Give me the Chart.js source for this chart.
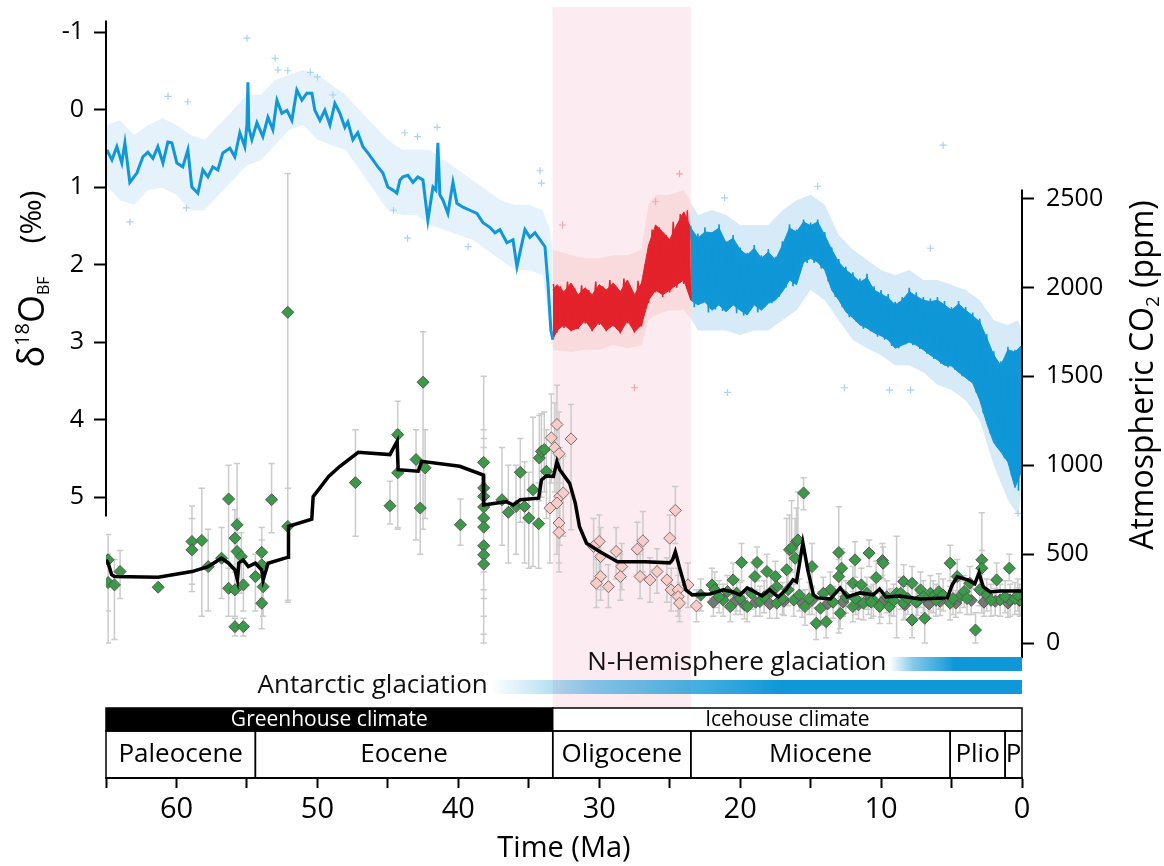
<!DOCTYPE html>
<html>
<head>
<meta charset="utf-8">
<script src="https://cdn.jsdelivr.net/npm/chart.js@4.4.1/dist/chart.umd.min.js"></script>
<style>
    html, body { margin: 0; padding: 0; background: #fff; }
    #chart { display: block; }
</style>
</head>
<body>
<canvas id="chart" width="1164" height="866"></canvas>
<script>
// benthic d18O, smoothed record 65 - 33.3 Ma (per mil)
const d18Age = [64.94, 64.58, 64.23, 63.88, 63.66, 63.31, 62.81, 62.38, 62.03, 61.67,
    61.32, 60.96, 60.61, 60.33, 59.97, 59.55, 59.19, 58.91, 58.48, 58.13,
    57.77, 57.42, 57.06, 56.71, 56.21, 55.86, 55.50, 55.15, 55.0, 54.93,
    54.86, 54.65, 54.29, 53.87, 53.51, 53.16, 52.87, 52.52, 52.16, 51.81,
    51.46, 51.1, 50.75, 50.39, 50.18, 49.82, 49.47, 49.11, 48.76, 48.4,
    48.05, 47.84, 47.48, 47.13, 46.77, 46.42, 46.06, 45.71, 45.35, 45.0,
    44.64, 44.36, 44.14, 43.93, 43.58, 43.22, 42.87, 42.51, 42.16, 41.8,
    41.59, 41.45, 41.31, 41.09, 40.74, 40.38, 40.1, 39.67, 39.18, 38.68,
    38.25, 37.76, 37.4, 37.05, 36.55, 36.12, 35.84, 35.63, 35.27, 34.92,
    34.56, 34.21, 33.85, 33.64, 33.43, 33.29];
const d18Val = [0.52, 0.65, 0.48, 0.69, 0.43, 0.94, 0.82, 0.61, 0.55, 0.63,
    0.48, 0.69, 0.42, 0.43, 0.69, 0.74, 0.52, 1.0, 1.08, 0.78,
    0.87, 0.74, 0.78, 0.56, 0.5, 0.61, 0.3, 0.48, 0.2, -0.35,
    0.24, 0.39, 0.17, 0.35, 0.1, 0.26, -0.12, 0.05, 0.01, 0.14,
    -0.25, -0.12, -0.21, -0.21, 0.01, 0.14, 0.01, 0.2, -0.08, 0.05,
    0.23, 0.16, 0.39, 0.3, 0.48, 0.56, 0.65, 0.74, 0.82, 1.0,
    1.04, 1.08, 0.91, 0.87, 0.85, 0.94, 0.87, 0.91, 1.43, 1.0,
    1.04, 0.43, 1.1, 1.17, 1.34, 0.94, 1.21, 1.26, 1.3, 1.34,
    1.46, 1.52, 1.59, 1.55, 1.72, 1.68, 2.03, 1.85, 1.55, 1.65,
    1.59, 1.68, 1.77, 2.24, 2.85, 2.97];

// 33.3 - 0 Ma: upper and lower edge of the dense record
const bandAge = [33.3, 33, 32.5, 32, 31.5, 31, 30.5, 30, 29.5, 29,
    28.5, 28, 27.5, 27, 26.5, 26, 25.5, 25, 24.5, 24,
    23.5, 23, 22.5, 22, 21.5, 21, 20.5, 20, 19.5, 19,
    18.5, 18, 17.5, 17, 16.5, 16, 15.5, 15, 14.5, 14,
    13.5, 13, 12.5, 12, 11.5, 11, 10.5, 10, 9.5, 9,
    8.5, 8, 7.5, 7, 6.5, 6, 5.5, 5, 4.5, 4,
    3.5, 3, 2.5, 2, 1.5, 1, 0.5, 0];
const bandTop = [2.33, 2.26, 2.35, 2.24, 2.39, 2.30, 2.39, 2.26, 2.33, 2.24,
    2.35, 2.20, 2.39, 2.24, 1.75, 1.49, 1.58, 1.68, 1.49, 1.32,
    1.53, 1.66, 1.58, 1.59, 1.53, 1.72, 1.66, 1.81, 1.88, 1.79,
    1.92, 1.84, 1.94, 1.75, 1.53, 1.58, 1.45, 1.50, 1.45, 1.62,
    1.81, 1.97, 2.07, 2.14, 2.23, 2.17, 2.33, 2.38, 2.43, 2.52,
    2.46, 2.35, 2.41, 2.46, 2.48, 2.46, 2.52, 2.59, 2.51, 2.59,
    2.66, 2.74, 2.95, 3.17, 3.30, 3.10, 3.13, 3.04];
const bandBottom = [2.97, 2.85, 2.78, 2.85, 2.82, 2.72, 2.85, 2.74, 2.85, 2.78,
    2.88, 2.72, 2.87, 2.78, 2.46, 2.33, 2.39, 2.33, 2.26, 2.20,
    2.46, 2.52, 2.48, 2.59, 2.52, 2.61, 2.52, 2.59, 2.65, 2.52,
    2.59, 2.50, 2.46, 2.35, 2.20, 2.26, 1.97, 1.92, 1.97, 2.07,
    2.33, 2.46, 2.61, 2.69, 2.78, 2.82, 2.88, 2.92, 2.97, 3.08,
    3.04, 3.00, 3.04, 3.10, 3.17, 3.23, 3.30, 3.31, 3.39, 3.46,
    3.53, 3.75, 4.05, 4.30, 4.42, 4.55, 4.88, 4.65];

// high-frequency swings of the dense record, 0.25 Ma apart
const swingOligoAge = [33.25, 33.0, 32.75, 32.5, 32.25, 32.0, 31.75, 31.5, 31.25, 31.0,
    30.75, 30.5, 30.25, 30.0, 29.75, 29.5, 29.25, 29.0, 28.75, 28.5,
    28.25, 28.0, 27.75, 27.5, 27.25, 27.0, 26.75, 26.5, 26.25, 26.0,
    25.75, 25.5, 25.25, 25.0, 24.75, 24.5, 24.25, 24.0, 23.75, 23.5];
const swingOligoVal = [2.25, 2.88, 2.28, 2.82, 2.22, 2.86, 2.30, 2.83, 2.27, 2.76,
    2.33, 2.86, 2.22, 2.78, 2.28, 2.86, 2.20, 2.80, 2.30, 2.89,
    2.18, 2.76, 2.32, 2.88, 2.21, 2.80, 2.00, 2.50, 1.55, 2.36,
    1.52, 2.42, 1.62, 2.36, 1.45, 2.30, 1.35, 2.25, 1.30, 2.46];
const swingYoungAge = [23.5, 23.25, 23.0, 22.75, 22.5, 22.25, 22.0, 21.75, 21.5, 21.25,
    21.0, 20.75, 20.5, 20.25, 20.0, 19.75, 19.5, 19.25, 19.0, 18.75,
    18.5, 18.25, 18.0, 17.75, 17.5, 17.25, 17.0, 16.75, 16.5, 16.25,
    16.0, 15.75, 15.5, 15.25, 15.0, 14.75, 14.5, 14.25, 14.0, 13.75,
    13.5, 13.25, 13.0, 12.75, 12.5, 12.25, 12.0, 11.75, 11.5, 11.25,
    11.0, 10.75, 10.5, 10.25, 10.0, 9.75, 9.5, 9.25, 9.0, 8.75,
    8.5, 8.25, 8.0, 7.75, 7.5, 7.25, 7.0, 6.75, 6.5, 6.25,
    6.0, 5.75, 5.5, 5.25, 5.0, 4.75, 4.5, 4.25, 4.0, 3.75,
    3.5, 3.25, 3.0, 2.75, 2.5, 2.25, 2.0, 1.75, 1.5, 1.25,
    1.0, 0.75, 0.5, 0.25, 0.0];
const swingYoungVal = [1.50, 2.55, 1.60, 2.50, 1.52, 2.62, 1.62, 2.58, 1.48, 2.60,
    1.70, 2.55, 1.62, 2.63, 1.78, 2.66, 1.85, 2.58, 1.75, 2.62,
    1.88, 2.55, 1.80, 2.50, 1.90, 2.42, 1.70, 2.30, 1.48, 2.28,
    1.55, 2.10, 1.42, 1.98, 1.46, 1.98, 1.42, 2.05, 1.58, 2.22,
    1.78, 2.42, 1.93, 2.55, 2.03, 2.68, 2.10, 2.74, 2.18, 2.83,
    2.12, 2.86, 2.28, 2.93, 2.33, 2.97, 2.38, 3.05, 2.48, 3.08,
    2.42, 3.03, 2.30, 3.04, 2.36, 3.09, 2.42, 3.15, 2.44, 3.22,
    2.42, 3.28, 2.47, 3.33, 2.55, 3.36, 2.47, 3.44, 2.55, 3.50,
    2.62, 3.65, 2.70, 3.92, 2.90, 4.18, 3.12, 4.36, 3.25, 4.50,
    3.06, 4.72, 3.10, 4.92, 3.00];

// spread of the single measurements around the record
const cloudAge = [65, 64, 63, 62, 61, 60, 59, 58, 57, 56,
    55, 54, 53, 52, 51, 50, 49, 48, 47, 46,
    45, 44, 43, 42, 41, 40, 39, 38, 37, 36,
    35, 34, 33.5, 33.3, 32, 31, 30, 29, 28, 27,
    26.5, 26, 25, 24, 23.5, 23, 22, 21, 20, 19,
    18, 17, 16, 15, 14, 13, 12, 11, 10, 9,
    8, 7, 6, 5, 4, 3, 2, 1, 0.3, 0];
const cloudTop = [0.20, 0.14, 0.33, 0.20, 0.11, 0.20, 0.33, 0.39, 0.20, 0.01,
    -0.19, -0.19, -0.38, -0.45, -0.51, -0.45, -0.32, -0.19, 0.01, 0.20,
    0.39, 0.52, 0.52, 0.52, 0.65, 0.78, 0.91, 1.04, 1.17, 1.23,
    1.23, 1.30, 1.55, 1.81, 1.88, 1.92, 1.92, 1.88, 1.88, 1.81,
    1.23, 1.10, 1.10, 1.04, 1.20, 1.36, 1.30, 1.36, 1.49, 1.49,
    1.49, 1.30, 1.17, 1.10, 1.23, 1.62, 1.81, 1.94, 2.07, 2.14,
    2.07, 2.20, 2.20, 2.26, 2.33, 2.46, 2.72, 2.78, 2.72, 2.85];
const cloudBottom = [0.97, 1.17, 1.23, 1.04, 1.01, 1.10, 1.30, 1.30, 1.10, 0.91,
    0.72, 0.65, 0.46, 0.26, 0.20, 0.39, 0.46, 0.52, 0.78, 1.04,
    1.30, 1.36, 1.36, 1.49, 1.55, 1.62, 1.68, 1.81, 1.94, 2.07,
    2.07, 2.14, 2.85, 3.10, 3.13, 3.10, 3.10, 3.04, 3.08, 3.04,
    2.72, 2.65, 2.59, 2.59, 2.70, 2.85, 2.85, 2.85, 2.91, 2.85,
    2.85, 2.72, 2.59, 2.33, 2.46, 2.72, 2.97, 3.08, 3.17, 3.30,
    3.30, 3.39, 3.55, 3.62, 3.75, 4.01, 4.59, 5.04, 5.23, 4.91];

// stray single measurements
const strayAge = [55.0, 53.0, 52.8, 52.1, 60.6, 59.2, 63.3, 59.3, 48.9, 50.5,
    50.0, 44.6, 43.8, 41.5, 42.9, 34.2, 34.1, 39.3, 43.6, 14.5,
    21.1, 6.5, 20.9, 12.6, 9.4, 7.9, 5.6, 0.28];
const strayVal = [-0.92, -0.66, -0.51, -0.50, -0.17, -0.10, 1.45, 1.27, -0.19, -0.48,
    -0.42, 1.30, 0.30, 0.23, 0.35, 0.79, 0.95, 1.77, 1.66, 0.99,
    1.14, 1.79, 3.65, 3.59, 3.62, 3.62, 0.46, 5.21];
const strayOligoAge = [24.3, 26.0, 32.6, 27.5];
const strayOligoVal = [0.83, 1.19, 1.49, 3.59];

// atmospheric CO2 (ppm)
const co2LineAge = [65.0, 64.85, 64.6, 64.4, 61.3, 58.9, 57.75, 56.8, 56.3, 55.85,
    55.67, 55.57, 55.27, 54.9, 54.4, 53.95, 53.85, 53.5, 52.07, 52.05,
    50.4, 50.3, 49.2, 48.4, 47.1, 44.85, 44.34, 44.27, 42.85, 42.6,
    39.9, 38.23, 38.2, 37.0, 36.6, 36.1, 35.6, 34.3, 34.1, 33.75,
    33.25, 33.0, 32.8, 32.1, 31.7, 31.4, 30.9, 29.95, 28.7, 26.75,
    25.0, 24.8, 24.6, 24.5, 24.3, 23.85, 23.4, 22.15, 21.2, 20.5,
    20.0, 19.5, 18.95, 18.45, 17.9, 17.3, 16.75, 16.25, 16.0, 15.55,
    15.2, 14.8, 14.5, 13.6, 12.9, 12.4, 11.5, 10.55, 10.1, 9.65,
    8.65, 7.25, 5.3, 4.95, 4.6, 3.85, 3.35, 3.05, 2.75, 2.25,
    1.55, 0];
const co2LineVal = [468, 450, 385, 374, 370, 402, 430, 477, 449, 411,
    355, 451, 468, 430, 449, 411, 355, 449, 483, 656,
    697, 823, 937, 994, 1073, 1060, 1135, 975, 966, 1022,
    994, 945, 776, 790, 795, 776, 806, 815, 917, 940,
    937, 1020, 975, 898, 787, 654, 561, 514, 457, 457,
    451, 468, 513, 485, 423, 299, 271, 276, 299, 287,
    271, 310, 287, 265, 299, 259, 299, 355, 344, 564,
    412, 271, 254, 248, 310, 259, 282, 271, 304, 259,
    265, 248, 254, 327, 372, 355, 333, 395, 316, 287,
    293, 293];

const greenAge = [64.85, 64.85, 64.4, 64.0, 61.3, 58.9, 58.9, 58.2, 57.75, 56.8,
    56.3, 56.3, 55.7, 55.85, 55.7, 55.4, 55.85, 55.25, 55.25, 55.85,
    53.95, 53.95, 54.4, 53.85, 53.95, 53.25, 52.1, 52.1, 47.3, 44.3,
    44.85, 44.3, 43.0, 42.7, 42.5, 42.35, 39.85, 38.2, 38.2, 38.2,
    38.2, 38.2, 38.2, 38.2, 38.2, 38.2, 36.9, 36.45, 35.6, 35.9,
    35.3, 35.0, 34.7, 34.3, 34.25, 34.1, 33.9, 33.75,
    22.0, 21.2, 20.5, 20.25, 20.7, 19.9, 19.5, 18.95, 18.8, 18.6,
    18.1, 17.5, 17.4, 17.4, 16.7, 16.5, 16.2, 16.0, 15.9, 16.1,
    16.35, 15.5, 15.4, 14.9, 14.6, 14.3, 13.9, 13.6, 13.0, 12.9,
    12.8, 13.0, 12.0, 11.85, 12.0, 11.4, 11.25, 10.85, 10.55, 10.35,
    10.1, 9.9, 9.85, 9.4, 8.9, 8.4, 8.4, 7.8, 7.8, 7.2,
    6.9, 6.5, 6.3, 5.9, 5.1, 5.1, 4.6, 4.4, 3.7, 3.3,
    2.85, 2.85, 1.8, 1.55, 0.9, 0.85, 0.15,
    22.8, 21.8, 21.5, 20.9, 20.0, 19.2, 18.3, 17.8, 17.0, 16.6,
    15.8, 15.1, 14.1, 13.4, 12.5, 11.8, 11.0, 10.7, 9.6, 9.1,
    8.6, 8.1, 7.5, 7.0, 6.1, 5.6, 4.9, 4.1, 3.9, 3.0,
    2.5, 2.2, 1.2, 0.5, 0.3];
const greenVal = [468, 340, 327, 402, 314, 571, 524, 577, 430, 477,
    810, 308, 665, 590, 515, 486, 92, 92, 327, 299,
    510, 440, 374, 317, 224, 806, 656, 1860, 902, 1172,
    772, 957, 1032, 759, 1467, 985, 665, 1016, 872, 825,
    765, 703, 652, 547, 496, 444, 806, 735, 960, 768,
    768, 703, 862, 671, 1041, 1078, 1088, 966,
    327, 242, 355, 280, 205, 453, 205, 374, 453, 233,
    402, 374, 317, 224, 412, 524, 242, 571, 580, 477,
    534, 844, 205, 430, 111, 196, 120, 299, 509, 167,
    421, 374, 205, 468, 336, 327, 224, 506, 242, 368,
    205, 464, 449, 205, 280, 346, 224, 336, 130, 299,
    139, 280, 261, 289, 449, 224, 374, 261, 336, 73,
    468, 421, 355, 242, 421, 242, 242,
    270, 300, 260, 290, 250, 280, 260, 290, 250, 300,
    270, 250, 280, 230, 260, 250, 280, 230, 260, 240,
    280, 250, 230, 260, 240, 270, 250, 290, 250, 300,
    270, 240, 260, 250, 270];
const greenLow = [0, 180, 20, 250, null, 290, 330, 150, 180, 250,
    420, 150, 330, 400, 300, 280, 40, 40, 180, 150,
    200, 250, 180, 150, 80, 620, 230, 240, 600, 650,
    670, 640, 580, 500, 640, 700, 550, 700, 560, 400,
    300, 250, 150, 50, 0, 0, 550, 450, 680, 500,
    450, 420, 430, 420, 800, 820, 850, 700,
    250, 150, 260, 180, 120, 350, 120, 280, 350, 150,
    300, 280, 220, 140, 300, 400, 150, 450, 450, 350,
    400, 750, 100, 320, 20, 100, 30, 200, 56, 80,
    300, 280, 120, 370, 240, 230, 130, 430, 150, 280,
    110, 380, 360, 110, 30, 250, 130, 240, 30, 200,
    0, 180, 170, 190, 350, 130, 280, 170, 240, 0,
    169, 320, 260, 150, 350, 150, 150,
    180, 200, 170, 200, 160, 190, 170, 200, 160, 210,
    180, 160, 190, 140, 170, 160, 190, 140, 170, 150,
    190, 160, 140, 170, 150, 180, 160, 200, 160, 210,
    180, 150, 170, 160, 180];
const greenHigh = [610, 500, 470, 520, null, 770, 700, 870, 640, 650,
    1000, 420, 1010, 750, 700, 620, 140, 140, 460, 420,
    650, 580, 500, 450, 380, 1010, 870, 2640, 1200, 1360,
    910, 1200, 1200, 990, 1750, 1200, 810, 1500, 1200, 1150,
    1100, 1000, 950, 900, 850, 800, 1100, 1000, 1150, 1000,
    1020, 960, 1270, 900, 1280, 1290, 1300, 1200,
    420, 330, 450, 360, 290, 560, 290, 470, 540, 320,
    500, 460, 400, 300, 700, 720, 330, 760, 850, 700,
    800, 930, 300, 560, 200, 290, 210, 400, 767, 250,
    530, 470, 290, 570, 430, 420, 310, 580, 330, 460,
    290, 560, 540, 300, 600, 440, 320, 430, 230, 400,
    280, 380, 350, 390, 550, 320, 470, 350, 430, 170,
    733, 520, 450, 330, 500, 330, 330,
    360, 400, 350, 380, 340, 370, 350, 380, 340, 390,
    360, 340, 370, 320, 350, 340, 370, 320, 350, 330,
    370, 340, 320, 350, 330, 360, 340, 380, 340, 390,
    360, 330, 350, 340, 360];

const oligoAge = [33.0, 33.4, 33.15, 32.85, 32.0, 32.8, 32.55, 33.0, 33.5, 32.85,
    32.85, 30.0, 30.4, 29.9, 28.8, 28.4, 28.5, 29.9, 30.2, 29.35,
    26.9, 27.3, 27.1, 26.4, 25.9, 24.6, 25.0, 25.2, 24.9, 24.4,
    24.4, 24.3, 23.7, 23.1];
const oligoVal = [1229, 1154, 1098, 1065, 1148, 825, 844, 788, 759, 675,
    622, 571, 543, 486, 515, 430, 374, 374, 336, 317,
    575, 528, 374, 355, 402, 746, 590, 355, 299, 299,
    261, 224, 327, 209];
const oligoLow = [1000, 900, 850, 800, 637, 550, 600, 500, 450, 450,
    400, 400, 350, 300, 360, 300, 240, 240, 200, 200,
    400, 380, 250, 230, 280, 560, 450, 230, 180, 180,
    150, 120, 200, 120];
const oligoHigh = [1450, 1400, 1350, 1300, 1341, 1100, 1050, 1000, 980, 900,
    850, 720, 700, 650, 650, 560, 500, 500, 470, 440,
    740, 680, 500, 480, 530, 880, 720, 480, 420, 420,
    380, 340, 450, 300];

const greyAge = [21.9, 20.3, 19.7, 18.9, 17.9, 16.9, 15.6, 14.9, 13.8, 12.7,
    11.6, 10.9, 10.0, 9.3, 8.3, 7.4, 6.6, 5.8, 4.7, 3.6,
    2.7, 1.9, 1.0, 0.2];
const greyVal = [230, 240, 215, 230, 220, 235, 225, 240, 220, 230,
    215, 240, 225, 235, 215, 235, 220, 235, 225, 240,
    230, 235, 225, 240];
const greyLow = [150, 160, 135, 150, 140, 155, 145, 160, 140, 150,
    135, 160, 145, 155, 135, 155, 140, 155, 145, 160,
    150, 155, 145, 160];
const greyHigh = [300, 310, 285, 300, 290, 305, 295, 310, 290, 300,
    285, 310, 295, 305, 285, 305, 290, 305, 295, 310,
    300, 305, 295, 310];

// timescale
const epochNames = ['Paleocene', 'Eocene', 'Oligocene', 'Miocene', 'Plio', 'P'];
const epochBounds = [65, 54.4, 33.3, 23.5, 5.1, 1.2, 0];
const climateNames = ['Greenhouse climate', 'Icehouse climate'];
const climateBounds = [65, 33.3, 0];
const glacNames = ['N-Hemisphere glaciation', 'Antarctic glaciation'];
const glacStart = [9.4, 37.7];
const glacFull = [4.8, 17];
const oligoShade = [33.3, 23.5];

const timeTicks = [0, 5, 10, 15, 20, 25, 30, 35, 40, 45, 50, 55, 60, 65];
const timeLabels = [0, 10, 20, 30, 40, 50, 60];
const d18Ticks = [-1, 0, 1, 2, 3, 4, 5];
const co2Ticks = [0, 500, 1000, 1500, 2000, 2500];

const BLUE = '#0f97d7';
const RED = '#e3222b';
const FONT = '"Open Sans", sans-serif';

const pts = (xs, ys) => xs.map((x, i) => ({ x: x, y: ys[i] }));
const part = (xs, ys, keep) => xs.map((x, i) => ({ x: x, y: ys[i] })).filter(p => keep(p.x));

function whiskers(age, low, high, cap) {
    const out = [];
    age.forEach((a, i) => {
        if (low[i] == null) return;
        out.push({ x: a, y: low[i] }, { x: a, y: high[i] }, { x: a, y: null });
        out.push({ x: a - cap, y: high[i] }, { x: a + cap, y: high[i] }, { x: a, y: null });
        out.push({ x: a - cap, y: low[i] }, { x: a + cap, y: low[i] }, { x: a, y: null });
    });
    return out;
}

const isOld = a => a >= 33.3;
const isOligo = a => a <= 33.3 && a >= 23.5;
const isYoung = a => a <= 23.5;

function edge(data, color, order, fill) {
    return { data: data, yAxisID: 'yL', borderWidth: 0, borderColor: 'transparent', backgroundColor: color,
        fill: fill ? '+1' : false, pointRadius: 0, order: order };
}
function bandEdge(data, color, order, fill) {
    return { data: data, yAxisID: 'yL', borderWidth: 1, borderColor: color, backgroundColor: color,
        fill: fill ? '+1' : false, pointRadius: 0, order: order };
}
function diamonds(data, fillColor, edgeColor, order) {
    return { data: data, yAxisID: 'yR', showLine: false, pointStyle: 'rectRot', pointRadius: 6,
        backgroundColor: fillColor, borderColor: edgeColor, borderWidth: 1, order: order };
}

const datasets = [
    // clouds of single measurements
    edge(part(cloudAge, cloudTop, isOld), '#e6f2fb', 20, true),
    edge(part(cloudAge, cloudBottom, isOld), '#e6f2fb', 20, false),
    edge(part(cloudAge, cloudTop, isOligo), '#f9dadd', 20, true),
    edge(part(cloudAge, cloudBottom, isOligo), '#f9dadd', 20, false),
    edge(part(cloudAge, cloudTop, isYoung), '#d7eaf8', 20, true),
    edge(part(cloudAge, cloudBottom, isYoung), '#d7eaf8', 20, false),
    { data: pts(strayAge, strayVal), yAxisID: 'yL', showLine: false, pointStyle: 'cross', pointRadius: 3.5,
        borderColor: '#a9d3ef', borderWidth: 1.2, order: 19 },
    { data: pts(strayOligoAge, strayOligoVal), yAxisID: 'yL', showLine: false, pointStyle: 'cross', pointRadius: 3.5,
        borderColor: '#eea7ad', borderWidth: 1.2, order: 19 },
    // dense record
    bandEdge(part(bandAge, bandTop, isOligo), RED, 15, true),
    bandEdge(part(bandAge, bandBottom, isOligo), RED, 15, false),
    bandEdge(part(bandAge, bandTop, isYoung), BLUE, 15, true),
    bandEdge(part(bandAge, bandBottom, isYoung), BLUE, 15, false),
    { data: pts(swingOligoAge, swingOligoVal), yAxisID: 'yL', borderColor: RED, borderWidth: 1.5, pointRadius: 0, order: 14 },
    { data: pts(swingYoungAge, swingYoungVal), yAxisID: 'yL', borderColor: BLUE, borderWidth: 1.5, pointRadius: 0, order: 14 },
    { data: pts(d18Age, d18Val), yAxisID: 'yL', borderColor: BLUE, borderWidth: 3, pointRadius: 0, order: 14 },
    // CO2 proxies
    { data: whiskers(greenAge, greenLow, greenHigh, 0.22), yAxisID: 'yR', borderColor: '#cbcbcb', borderWidth: 1.5,
        pointRadius: 0, spanGaps: false, order: 10 },
    { data: whiskers(oligoAge, oligoLow, oligoHigh, 0.22), yAxisID: 'yR', borderColor: '#cbcbcb', borderWidth: 1.5,
        pointRadius: 0, spanGaps: false, order: 10 },
    { data: whiskers(greyAge, greyLow, greyHigh, 0.22), yAxisID: 'yR', borderColor: '#cbcbcb', borderWidth: 1.5,
        pointRadius: 0, spanGaps: false, order: 10 },
    diamonds(pts(greyAge, greyVal), '#737a73', '#555', 6),
    diamonds(pts(oligoAge, oligoVal), '#f8cdc8', '#7d6c6c', 5),
    diamonds(pts(greenAge, greenVal), '#3b9a47', '#555', 4),
    { data: pts(co2LineAge, co2LineVal), yAxisID: 'yR', borderColor: '#000', borderWidth: 3.5, pointRadius: 0, order: 1 }
];

function textRun(ctx, pieces, baseX, centerY) {
    let total = 0;
    pieces.forEach(p => {
        ctx.font = p.size + 'px ' + FONT;
        p.w = ctx.measureText(p.text).width;
        total += p.w;
    });
    ctx.save();
    ctx.translate(baseX, centerY + total / 2);
    ctx.rotate(-Math.PI / 2);
    ctx.textBaseline = 'alphabetic';
    ctx.textAlign = 'left';
    let pos = 0;
    pieces.forEach(p => {
        ctx.font = p.size + 'px ' + FONT;
        ctx.fillText(p.text, pos, p.dy || 0);
        pos += p.w;
    });
    ctx.restore();
}

const decor = {
    id: 'decor',
    beforeDatasetsDraw(chart) {
        const { ctx, chartArea, scales: { x } } = chart;
        const a = x.getPixelForValue(oligoShade[0]);
        const b = x.getPixelForValue(oligoShade[1]);
        ctx.save();
        ctx.fillStyle = '#fcebf1';
        ctx.fillRect(a, chartArea.top, b - a, 708 - chartArea.top);
        ctx.restore();
    },
    afterDatasetsDraw(chart) {
        const { ctx, chartArea, scales: { x, yL, yR } } = chart;
        ctx.save();
        ctx.fillStyle = '#000';
        ctx.strokeStyle = '#000';

        // partial axis lines
        ctx.lineWidth = 2;
        ctx.beginPath();
        ctx.moveTo(chartArea.left, yL.getPixelForValue(-1.15));
        ctx.lineTo(chartArea.left, yL.getPixelForValue(5.25));
        ctx.moveTo(chartArea.right, yR.getPixelForValue(2550));
        ctx.lineTo(chartArea.right, yR.getPixelForValue(-85));
        ctx.stroke();

        // glaciation bars
        const rowsY = [657, 680];
        glacNames.forEach((name, i) => {
            const x0 = x.getPixelForValue(glacStart[i]);
            const x1 = x.getPixelForValue(glacFull[i]);
            const g = ctx.createLinearGradient(x0, 0, x1, 0);
            g.addColorStop(0, 'rgba(15,151,215,0)');
            g.addColorStop(0.35, 'rgba(15,151,215,0.5)');
            g.addColorStop(1, 'rgba(15,151,215,1)');
            ctx.fillStyle = g;
            ctx.fillRect(x0, rowsY[i], chartArea.right - x0, 14);
            ctx.fillStyle = '#111';
            ctx.font = '26px ' + FONT;
            ctx.textAlign = 'right';
            ctx.textBaseline = 'middle';
            ctx.fillText(name, x0 - 3, rowsY[i] + 6);
        });

        // greenhouse / icehouse row
        ctx.lineWidth = 1.5;
        climateNames.forEach((name, i) => {
            const x0 = x.getPixelForValue(climateBounds[i]);
            const x1 = x.getPixelForValue(climateBounds[i + 1]);
            ctx.fillStyle = i === 0 ? '#000' : '#fff';
            ctx.fillRect(x0, 708, x1 - x0, 23);
            ctx.strokeRect(x0, 708, x1 - x0, 23);
            ctx.fillStyle = i === 0 ? '#fff' : '#000';
            ctx.font = '21px ' + FONT;
            ctx.textAlign = 'center';
            ctx.textBaseline = 'middle';
            ctx.fillText(name, (x0 + x1) / 2, 720);
        });

        // epochs
        epochNames.forEach((name, i) => {
            const x0 = x.getPixelForValue(epochBounds[i]);
            const x1 = x.getPixelForValue(epochBounds[i + 1]);
            ctx.strokeRect(x0, 731, x1 - x0, chartArea.bottom - 731);
            ctx.fillStyle = '#000';
            ctx.font = '26px ' + FONT;
            ctx.textAlign = 'center';
            ctx.textBaseline = 'middle';
            ctx.fillText(name, (x0 + x1) / 2, 755);
        });

        // axis titles
        ctx.fillStyle = '#000';
        textRun(ctx, [
            { text: '\u03b4', size: 36 },
            { text: '18', size: 20, dy: -15 },
            { text: 'O', size: 36 },
            { text: 'BF', size: 16, dy: 5 }
        ], 44, 322);
        textRun(ctx, [{ text: '(\u2030)', size: 30 }], 41, 217);
        textRun(ctx, [
            { text: 'Atmospheric CO', size: 32 },
            { text: '2', size: 19, dy: 6 },
            { text: ' (ppm)', size: 32 }
        ], 1153, 375);
        ctx.restore();
    }
};

Chart.defaults.font.family = FONT;

new Chart(document.getElementById('chart'), {
    type: 'line',
    data: { datasets: datasets },
    options: {
        responsive: false,
        animation: false,
        layout: { padding: { top: 7, left: 0, right: 0, bottom: 0 } },
        plugins: { legend: { display: false }, tooltip: { enabled: false } },
        elements: { line: { tension: 0 } },
        scales: {
            x: {
                type: 'linear', min: 0, max: 65, reverse: true,
                afterBuildTicks: s => { s.ticks = timeTicks.map(v => ({ value: v })); },
                afterFit: s => { s.height = 88; s.paddingLeft = 0; s.paddingRight = 0; },
                border: { color: '#000', width: 2 },
                grid: { drawOnChartArea: false, tickLength: 10, tickColor: '#000', tickWidth: 2 },
                ticks: { autoSkip: false, maxRotation: 0, padding: 4, color: '#000', font: { size: 29 },
                    callback: v => timeLabels.includes(v) ? String(v) : '' },
                title: { display: true, text: 'Time (Ma)', color: '#000', font: { size: 29 }, padding: { top: 0, bottom: 0 } }
            },
            yL: {
                position: 'left', reverse: true, min: -1.3226, max: 8.6258,
                afterBuildTicks: s => { s.ticks = d18Ticks.map(v => ({ value: v })); },
                afterFit: s => { s.width = 106; s.paddingTop = 0; s.paddingBottom = 0; },
                border: { display: false },
                grid: { drawOnChartArea: false, tickLength: 12, tickColor: '#000', tickWidth: 2 },
                ticks: { padding: 10, color: '#000', font: { size: 25 }, callback: v => String(v) }
            },
            yR: {
                position: 'right', min: -759, max: 3577,
                afterBuildTicks: s => { s.ticks = co2Ticks.map(v => ({ value: v })); },
                afterFit: s => { s.width = 142; s.paddingTop = 0; s.paddingBottom = 0; },
                border: { display: false },
                grid: { drawOnChartArea: false, tickLength: 12, tickColor: '#000', tickWidth: 2 },
                ticks: { padding: 12, color: '#000', font: { size: 25 }, callback: v => String(v) }
            }
        }
    },
    plugins: [decor]
});
</script>
</body>
</html>
